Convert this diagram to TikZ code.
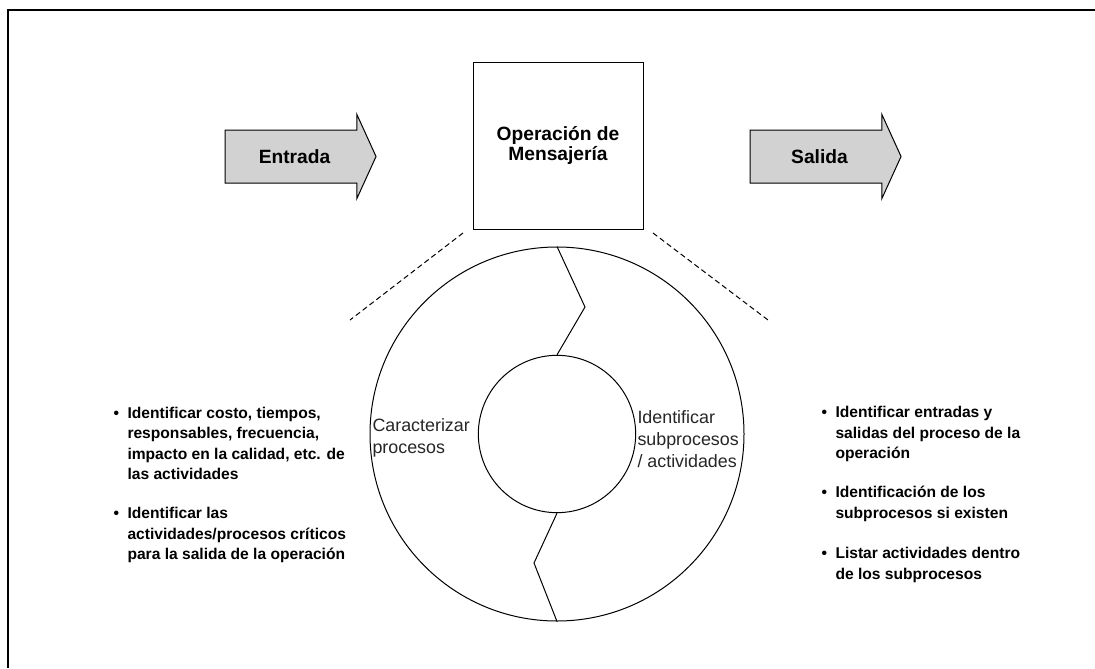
\documentclass[tikz,border=0pt]{standalone}
\usepackage{fontspec}
\setmainfont{Liberation Sans}
\usetikzlibrary{shapes.arrows}
\usetikzlibrary{positioning}
\newcommand{\vineta}{\llap{\textbullet\hspace{6.4pt}}}

\begin{document}
\begin{tikzpicture}[
x=0.75pt, y=-0.75pt,
line width=0.75pt,
flecha/.style = {
  single arrow,
  draw,
  fill=gray!35,
  inner xsep=0pt,
  inner ysep=14.25pt,
  text height=10.5pt,
  text depth=0pt,
  minimum height=113.25pt,
  single arrow head extend=11.6pt,
  single arrow tip angle=131,
  font=\fontsize{14.4}{15}\selectfont\bfseries},
caja/.style = {
  draw,
  rectangle,
  minimum width=127.5pt,
  minimum height=125.25pt,
  align=center,
  font=\fontsize{14.4}{15}\selectfont\bfseries},
anillo/.style = {draw, circle, inner sep=0pt},
etiq/.style = {align=left, inner sep=0pt, anchor=west,
  text=black!85, font=\fontsize{13.4}{16.5}\selectfont},
lista/.style = {align=left, inner sep=0pt, anchor=west,
  font=\fontsize{11.7}{15.2}\selectfont\bfseries},
guia/.style = {draw=black, dash pattern=on 4pt off 2.5pt},
line/.style = {draw=black},
]
\useasboundingbox (0,0) rectangle (1095,668);
\draw[line width=1.1pt] (8,668) -- (8,10) -- (1095,10);

\node[flecha] (entrada) at (294.5,156.5) {Entrada};
\node[flecha] (salida) at (819.5,156.5) {Salida};
\node[caja] (op) at (558,145.5) {Operación de\\Mensajería};

\node[anillo, minimum size=280.5pt] (ext) at (557,434) {};
\node[anillo, minimum size=118pt] (int) at (557,434) {};

\coordinate (zs) at (585,307);
\coordinate (zi) at (534,563);
\coordinate (g1) at (463,233);
\coordinate (g2) at (350,320);
\coordinate (d1) at (653,233);
\coordinate (d2) at (768,320);

 \begin{scope}[every path/.style=line]
\path (ext.north) -- (zs) -- (int.north);
\path (int.south) -- (zi) -- (ext.south);
\end{scope}
\path[guia] (g1) -- (g2);
\path[guia] (d1) -- (d2);

\node[etiq] (carac) at (372,438) {Caracterizar\\procesos};
\node[etiq] (ident) at (637,439) {Identificar\\subprocesos\\/ actividades};

\node[lista] (izq1) at (127,443.5) {\vineta Identificar costo, tiempos,\\responsables, frecuencia,\\impacto en la calidad, etc. de\\las actividades};
\node[lista] (izq2) at (127,535) {\vineta Identificar las\\actividades/procesos críticos\\para la salida de la operación};

\node[lista] (der1) at (835,434) {\vineta Identificar entradas y\\salidas del proceso de la\\operación};
\node[lista] (der2) at (835,504) {\vineta Identificación de los\\subprocesos si existen};
\node[lista] (der3) at (835,565) {\vineta Listar actividades dentro\\de los subprocesos};

\end{tikzpicture}
\end{document}
